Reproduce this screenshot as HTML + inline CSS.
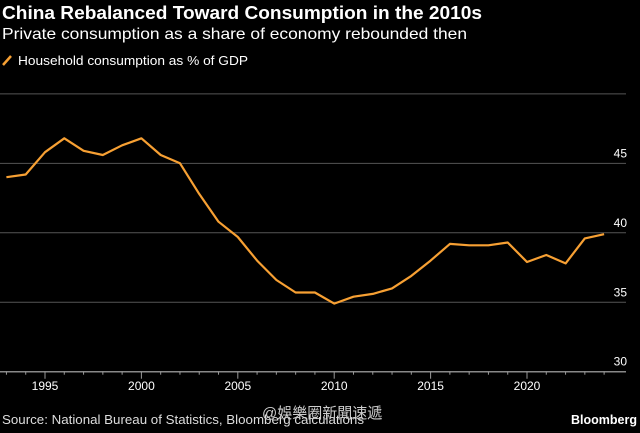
<!DOCTYPE html>
<html><head><meta charset="utf-8"><style>
body{margin:0;background:#000;width:640px;height:428px;overflow:hidden;font-family:"Liberation Sans","Noto Sans CJK SC",sans-serif;}
</style></head><body>
<svg width="640" height="428" xmlns="http://www.w3.org/2000/svg">
<text x="2" y="19" fill="#fff" font-size="18" font-weight="bold" textLength="480" lengthAdjust="spacingAndGlyphs">China Rebalanced Toward Consumption in the 2010s</text>
<text x="2" y="39" fill="#fff" font-size="16" textLength="465" lengthAdjust="spacingAndGlyphs">Private consumption as a share of economy rebounded then</text>
<line x1="3" y1="65" x2="11" y2="56" stroke="#f7a033" stroke-width="2.5"/>
<text x="18" y="65" fill="#fff" font-size="12.5" textLength="230" lengthAdjust="spacingAndGlyphs">Household consumption as % of GDP</text>
<g id="grid"></g><g id="xaxis"></g>
<path id="line" fill="none" stroke="#f7a033" stroke-width="2.2" stroke-linejoin="round"/>
<text x="2" y="424" fill="#ddd" font-size="13" textLength="362" lengthAdjust="spacingAndGlyphs">Source: National Bureau of Statistics, Bloomberg calculations</text>
<text x="262" y="418" fill="#ccc" font-size="15">@娛樂圈新聞速遞</text>
<text x="637" y="424" fill="#fff" font-size="12.5" font-weight="bold" text-anchor="end">Bloomberg</text>
</svg>
<script>
const years=[1993,1994,1995,1996,1997,1998,1999,2000,2001,2002,2003,2004,2005,2006,2007,2008,2009,2010,2011,2012,2013,2014,2015,2016,2017,2018,2019,2020,2021,2022,2023,2024];
const values=[44.0,44.2,45.8,46.8,45.9,45.6,46.3,46.8,45.6,45.0,42.8,40.8,39.7,38.0,36.6,35.7,35.7,34.9,35.4,35.6,36.0,36.9,38.0,39.2,39.1,39.1,39.3,37.9,38.4,37.8,39.6,39.9];
const yTicks=[30,35,40,45,50];
const xTicks=[1995,2000,2005,2010,2015,2020];
const NS="http://www.w3.org/2000/svg";
const x=v=>45+(v-1995)*19.28;
const y=v=>371.7-(v-30)*13.89;
const grid=document.getElementById('grid'),xa=document.getElementById('xaxis');
function mk(t,a,p){const e=document.createElementNS(NS,t);for(const k in a)e.setAttribute(k,a[k]);p.appendChild(e);return e;}
yTicks.forEach(t=>{
 const l=mk('line',{x1:0,x2:626,y1:y(t),y2:y(t),stroke:t===30?'#888':'#555','stroke-width':t===30?1.5:1},grid);
 
 
 const tx=mk('text',{x:627,y:y(t)-6,fill:'#fff','font-size':12,'text-anchor':'end'},grid);
 tx.textContent=t===50?'':t;
 
 
});
for(let yr=1993;yr<=2024;yr++){
 const big=xTicks.includes(yr);
 const tk=mk('line',{x1:x(yr),x2:x(yr),y1:y(30),y2:y(30)+(big?7:3),stroke:'#999','stroke-width':1},xa);
 
 
}
xTicks.forEach(t=>{
 const tx=mk('text',{x:x(t),y:390,fill:'#fff','font-size':12,'text-anchor':'middle'},xa);
 tx.textContent=t;
 
 
});
document.getElementById('line').setAttribute('d',values.map((v,i)=>(i?'L':'M')+x(years[i]).toFixed(1)+' '+y(v).toFixed(1)).join(''));
</script>
</body></html>
